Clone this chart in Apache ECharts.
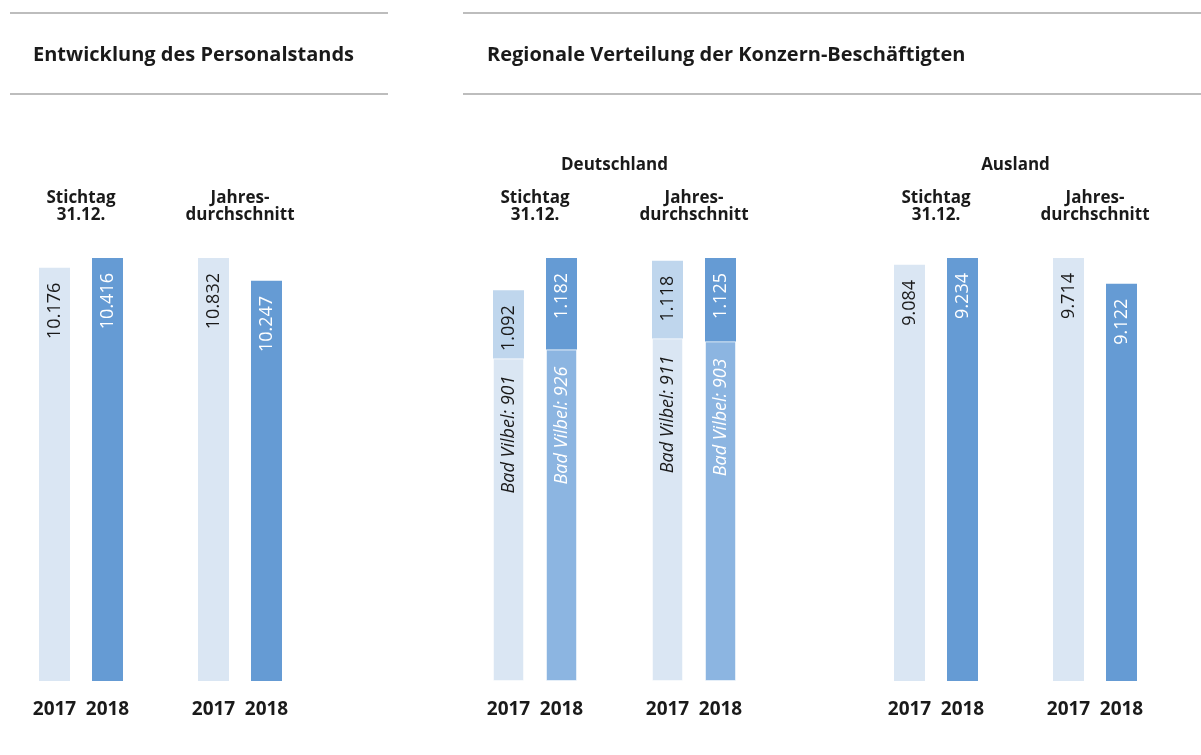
<!DOCTYPE html>
<html>
<head>
<meta charset="utf-8">
<script src="https://cdn.jsdelivr.net/npm/echarts@6/dist/echarts.min.js"></script>
<style>
  html, body { margin: 0; padding: 0; background: #fff; }
  #chart { width: 1201px; height: 755px; }
</style>
</head>
<body>
<div id="chart"></div>
<script>
// data
const years = ['2017', '2018']
const personalStichtag = [10176, 10416]
const personalJahr = [10832, 10247]
const deStichtag = [1092, 1182]
const deStichtagBadVilbel = [901, 926]
const deJahr = [1118, 1125]
const deJahrBadVilbel = [911, 903]
const auslandStichtag = [9084, 9234]
const auslandJahr = [9714, 9122]

const FONT = '"Open Sans"'
const TEXT = '#1a1a1a'
const barColors = ['#dae6f3', '#659bd4']
const deTopColors = ['#bfd6ed', '#659bd4']
const deBottomColors = ['#dae6f3', '#8cb5e1']
const labelColors = [TEXT, '#ffffff']

const fmt = v => String(v).replace(/\B(?=(\d{3})+(?!\d))/g, '.')

// one grid per pair, each pair scaled to its own max
const gridLefts = [28, 187, 482, 641, 883, 1042]
const pairs = [
  { values: personalStichtag },
  { values: personalJahr },
  { values: deStichtag, badVilbel: deStichtagBadVilbel },
  { values: deJahr, badVilbel: deJahrBadVilbel },
  { values: auslandStichtag },
  { values: auslandJahr }
]

const valueLabel = (color, extra) => Object.assign({
  show: true,
  position: 'insideTop',
  distance: 15,
  rotate: 90,
  align: 'right',
  verticalAlign: 'middle',
  fontFamily: FONT,
  fontSize: 18,
  color: color
}, extra || {})

const grid = [], xAxis = [], yAxis = [], series = []
pairs.forEach((p, i) => {
  grid.push({ left: gridLefts[i], width: 106, top: 258, bottom: 74 })
  xAxis.push({
    type: 'category', gridIndex: i, data: years,
    axisLine: { show: false }, axisTick: { show: false },
    axisLabel: { interval: 0, color: TEXT, fontFamily: FONT, fontWeight: 'bold', fontSize: 19, margin: 19 }
  })
  yAxis.push({ type: 'value', gridIndex: i, min: 0, max: Math.max(...p.values), show: false })

  if (!p.badVilbel) {
    series.push({
      type: 'bar', xAxisIndex: i, yAxisIndex: i, barWidth: 31, silent: true,
      data: p.values.map((v, k) => ({
        value: v,
        itemStyle: { color: barColors[k] },
        label: valueLabel(labelColors[k], { formatter: fmt(v) })
      }))
    })
  } else {
    series.push({
      type: 'bar', xAxisIndex: i, yAxisIndex: i, barWidth: 31, stack: 'de' + i, silent: true,
      data: p.badVilbel.map((v, k) => ({
        value: v,
        itemStyle: { color: deBottomColors[k], borderColor: 'rgba(255,255,255,0.55)', borderWidth: 1 },
        label: valueLabel(labelColors[k], { fontStyle: 'italic', formatter: 'Bad Vilbel: ' + v, distance: 17 })
      }))
    })
    series.push({
      type: 'bar', xAxisIndex: i, yAxisIndex: i, barWidth: 31, stack: 'de' + i, silent: true,
      data: p.values.map((v, k) => ({
        value: v - p.badVilbel[k],
        itemStyle: { color: deTopColors[k] },
        label: valueLabel(labelColors[k], { formatter: fmt(v) })
      }))
    })
  }
})

const headText = (x, y, text, size) => ({
  type: 'text', x: x, y: y,
  style: {
    text: text, fill: TEXT, font: 'bold ' + size + 'px ' + FONT,
    align: 'center', verticalAlign: 'middle', lineHeight: 17
  }
})
const rule = (x1, x2, y) => ({
  type: 'line', shape: { x1: x1, y1: y, x2: x2, y2: y },
  style: { stroke: '#bdbdbd', lineWidth: 2 }
})

const graphic = [
  rule(10, 388, 13), rule(10, 388, 94),
  rule(463, 1201, 13), rule(463, 1201, 94),
  { type: 'text', x: 33, y: 55, style: { text: 'Entwicklung des Personalstands', fill: TEXT, font: 'bold 20px ' + FONT, verticalAlign: 'middle' } },
  { type: 'text', x: 487, y: 55, style: { text: 'Regionale Verteilung der Konzern-Beschäftigten', fill: TEXT, font: 'bold 20px ' + FONT, verticalAlign: 'middle' } },
  headText(614.5, 165, 'Deutschland', 17),
  headText(1015.5, 165, 'Ausland', 17)
]
gridLefts.forEach((l, i) => {
  const txt = i % 2 === 0 ? 'Stichtag\n31.12.' : 'Jahres-\ndurchschnitt'
  graphic.push(headText(l + 53, 207, txt, 17))
})

const myChart = echarts.init(document.getElementById('chart'))
myChart.setOption({
  animation: false,
  grid: grid,
  xAxis: xAxis,
  yAxis: yAxis,
  series: series,
  graphic: graphic
})
</script>
</body>
</html>
